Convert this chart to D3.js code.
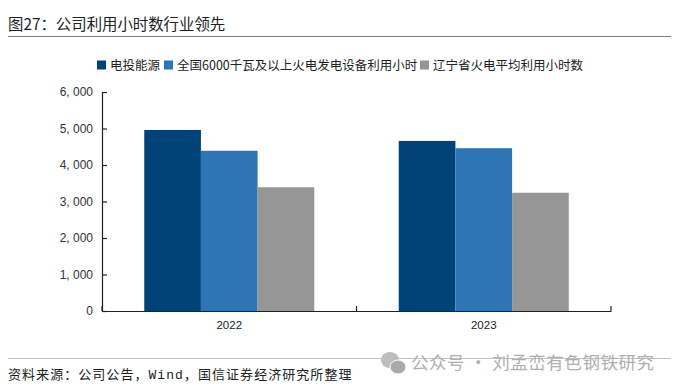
<!DOCTYPE html>
<html>
<head>
<meta charset="utf-8">
<script src="https://cdn.jsdelivr.net/npm/d3@7"></script>
<style>
html, body { margin: 0; padding: 0; background: #fff; }
svg { display: block; }
text { font-family: "Noto Sans CJK SC", sans-serif; fill: #222; }
.num { font-family: "Liberation Sans", sans-serif; }
</style>
</head>
<body>
<svg width="678" height="390"></svg>
<script>
var categories = ["2022", "2023"];
var seriesNames = ["电投能源", "全国6000千瓦及以上火电发电设备利用小时", "辽宁省火电平均利用小时数"];
var seriesColors = ["#004379", "#2e75b6", "#969696"];
var company = [4960, 4660];
var national = [4390, 4460];
var liaoning = [3390, 3240];
var yTicks = [0, 1000, 2000, 3000, 4000, 5000, 6000];
var allValues = [company, national, liaoning];

var svg = d3.select("svg");

var margin = { top: 92, right: 67, bottom: 79, left: 102 };
var width = 678 - margin.left - margin.right;
var height = 390 - margin.top - margin.bottom;

var chartG = svg.append("g")
    .attr("transform", "translate(" + margin.left + "," + margin.top + ")");

// Scales
var xScale = d3.scaleBand().domain(categories).range([0, width]);
var barScale = d3.scaleBand().domain([0, 1, 2]).range([0, 170]);
var yScale = d3.scaleLinear().domain([0, 6000]).range([height, 0]);

// Title and rules
svg.append("text")
    .attr("x", 8).attr("y", 30)
    .style("font-size", "15.4px")
    .text("图27：公司利用小时数行业领先");

svg.append("line")
    .attr("x1", 8).attr("x2", 671).attr("y1", 36.5).attr("y2", 36.5)
    .attr("stroke", "#808080");

svg.append("line")
    .attr("x1", 8).attr("x2", 671).attr("y1", 358.5).attr("y2", 358.5)
    .attr("stroke", "#c4c4c4");

var source = svg.append("text")
    .attr("x", 8).attr("y", 379)
    .style("font-size", "13px")
    .style("letter-spacing", "1.05px");
source.append("tspan").text("资料来源：公司公告，");
source.append("tspan").style("font-family", "Liberation Mono, monospace").text("Wind");
source.append("tspan").text("，国信证券经济研究所整理");

// Legend
var legendX = [97, 164, 420];
var legendG = svg.append("g");
seriesNames.forEach(function (name, i) {
    legendG.append("rect")
        .attr("x", legendX[i]).attr("y", 60.5)
        .attr("width", 9).attr("height", 9)
        .attr("fill", seriesColors[i]);
    legendG.append("text")
        .attr("x", legendX[i] + 13).attr("y", 70)
        .style("font-size", "12.5px")
        .text(name);
});

// Bars
allValues.forEach(function (values, i) {
    chartG.selectAll(".bar" + i)
        .data(values)
        .enter().append("rect")
        .attr("class", "bar" + i)
        .attr("x", function (d, j) { return xScale(categories[j]) + (xScale.bandwidth() - 170) / 2 + barScale(i); })
        .attr("y", function (d) { return yScale(d); })
        .attr("width", barScale.bandwidth())
        .attr("height", function (d) { return height - yScale(d); })
        .attr("fill", seriesColors[i]);
});

// Axes
var yAxis = d3.axisLeft(yScale)
    .tickValues(yTicks)
    .tickSize(-5)
    .tickPadding(9)
    .tickFormat(function (d) { return d3.format(",")(d).replace(",", ", "); });

var yG = chartG.append("g").call(yAxis);
yG.selectAll("text")
    .attr("class", "num")
    .style("font-size", "12px")
    .style("fill", "#333");
yG.selectAll("path, line").attr("stroke", "#222").attr("stroke-width", 1.2);

var xG = chartG.append("g")
    .attr("transform", "translate(0," + height + ")")
    .call(d3.axisBottom(xScale).tickSize(0).tickPadding(10));
xG.selectAll("text")
    .attr("class", "num")
    .style("font-size", "11.5px");
xG.select("path").attr("stroke", "#222").attr("stroke-width", 1.2);

// Category boundary ticks
xG.selectAll(".edge")
    .data([0, xScale.bandwidth(), width])
    .enter().append("line")
    .attr("class", "edge")
    .attr("x1", function (d) { return d; })
    .attr("x2", function (d) { return d; })
    .attr("y1", 0).attr("y2", -5)
    .attr("stroke", "#222").attr("stroke-width", 1.2);

// Watermark
var markG = svg.append("g").attr("transform", "translate(381,358)");
markG.append("ellipse")
    .attr("cx", 9).attr("cy", 2).attr("rx", 9).attr("ry", 8)
    .attr("fill", "#bdbdbd");
markG.append("ellipse")
    .attr("cx", 17).attr("cy", 9).attr("rx", 8).attr("ry", 7)
    .attr("fill", "#a9a9a9").attr("stroke", "#fff");
svg.append("text")
    .attr("x", 411).attr("y", 369)
    .style("font-size", "17.5px")
    .style("fill", "#b0b0b0")
    .style("letter-spacing", "0.55px")
    .text("公众号 · 刘孟峦有色钢铁研究");
</script>
</body>
</html>
